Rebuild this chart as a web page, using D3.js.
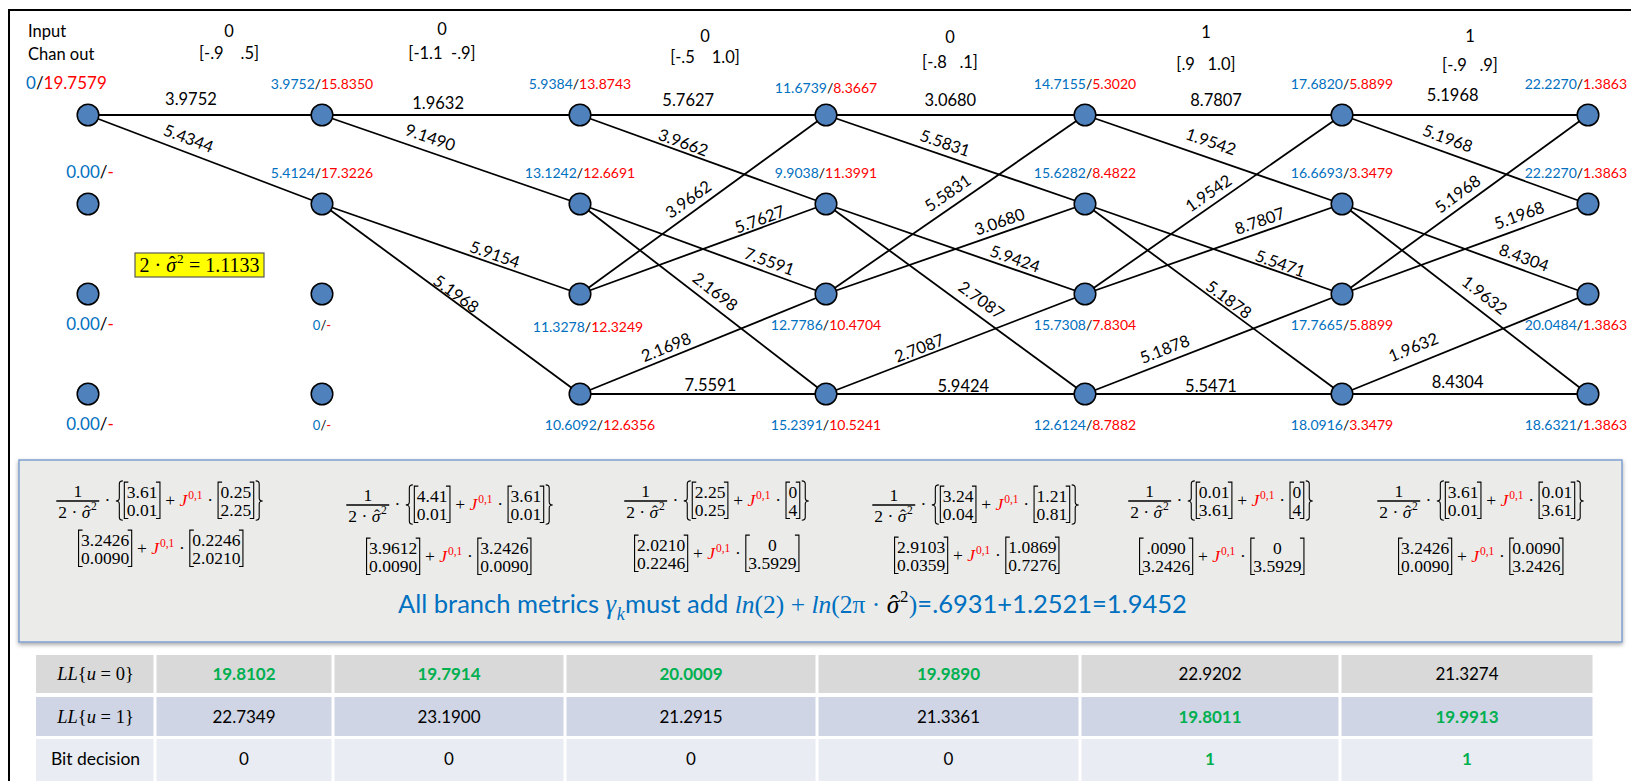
<!DOCTYPE html>
<html>
<head>
<meta charset="utf-8">
<script src="https://cdn.jsdelivr.net/npm/d3@7"></script>
<style>
  html, body { margin: 0; padding: 0; background: #fff; }
  svg text { white-space: pre; }
</style>
</head>
<body>
<svg id="chart" width="1631" height="781"></svg>
<script>
// ---------------- data ----------------
const inputBits = ["0", "0", "0", "0", "1", "1"];
const chanOut = ["[-.9    .5]", "[-1.1  -.9]", "[-.5    1.0]", "[-.8   .1]", "[.9   1.0]", "[-.9   .9]"];

// forward (alpha) / backward (beta) state metrics, one array per trellis column, states 0..3
const alphaCol = [
  ["0", "0.00", "0.00", "0.00"],
  ["3.9752", "5.4124", "0", "0"],
  ["5.9384", "13.1242", "11.3278", "10.6092"],
  ["11.6739", "9.9038", "12.7786", "15.2391"],
  ["14.7155", "15.6282", "15.7308", "12.6124"],
  ["17.6820", "16.6693", "17.7665", "18.0916"],
  ["22.2270", "22.2270", "20.0484", "18.6321"]
];
const betaCol = [
  ["19.7579", "-", "-", "-"],
  ["15.8350", "17.3226", "-", "-"],
  ["13.8743", "12.6691", "12.3249", "12.6356"],
  ["8.3667", "11.3991", "10.4704", "10.5241"],
  ["5.3020", "8.4822", "7.8304", "8.7882"],
  ["5.8899", "3.3479", "5.8899", "3.3479"],
  ["1.3863", "1.3863", "1.3863", "1.3863"]
];

// trellis branches (from state, to state) and branch metrics per stage
const branchPairs = [[0, 0], [0, 1], [1, 2], [1, 3], [2, 0], [2, 1], [3, 2], [3, 3]];
const gammaStage = [
  ["3.9752", "5.4344"],
  ["1.9632", "9.1490", "5.9154", "5.1968"],
  ["5.7627", "3.9662", "7.5591", "2.1698", "3.9662", "5.7627", "2.1698", "7.5591"],
  ["3.0680", "5.5831", "5.9424", "2.7087", "5.5831", "3.0680", "2.7087", "5.9424"],
  ["8.7807", "1.9542", "5.5471", "5.1878", "1.9542", "8.7807", "5.1878", "5.5471"],
  ["5.1968", "5.1968", "8.4304", "1.9632", "5.1968", "5.1968", "1.9632", "8.4304"]
];

const noiseVar = "1.1133";

// squared distances per stage: direct term and J-weighted term
const distDirect = [["3.61", "0.01"], ["4.41", "0.01"], ["2.25", "0.25"], ["3.24", "0.04"], ["0.01", "3.61"], ["3.61", "0.01"]];
const distJ = [["0.25", "2.25"], ["3.61", "0.01"], ["0", "4"], ["1.21", "0.81"], ["0", "4"], ["0.01", "3.61"]];
const scaledDirect = [["3.2426", "0.0090"], ["3.9612", "0.0090"], ["2.0210", "0.2246"], ["2.9103", "0.0359"], [".0090", "3.2426"], ["3.2426", "0.0090"]];
const scaledJ = [["0.2246", "2.0210"], ["3.2426", "0.0090"], ["0", "3.5929"], ["1.0869", "0.7276"], ["0", "3.5929"], ["0.0090", "3.2426"]];

const constTerms = "=.6931+1.2521=1.9452";

// log-likelihood table
const llZero = ["19.8102", "19.7914", "20.0009", "19.9890", "22.9202", "21.3274"];
const llOne = ["22.7349", "23.1900", "21.2915", "21.3361", "19.8011", "19.9913"];
const bitDecision = ["0", "0", "0", "0", "1", "1"];

// ---------------- layout ----------------
const colX = [88, 322, 580, 826, 1085, 1342, 1588];
const rowY = [115, 204, 294, 394];
const headX = [229, 442, 705, 950, 1206, 1470];
const bitY = [37, 35, 42, 43, 38, 42];
const chanY = [59, 59, 63, 68, 70, 71];
// branch label placement: fraction along branch, vertical lift above the line
const labelPlace = [
  [[.44, 16], [.43, 15]],
  [[.45, 12], [.42, 15], [.67, 10], [.52, 9]],
  [[.44, 15], [.42, 10], [.77, 12], [.55, 17], [.44, 16], [.73, 9], [.35, 12], [.53, 9]],
  [[.48, 15], [.46, 13], [.73, 11], [.60, 18], [.47, 17], [.67, 12], [.36, 10], [.53, 8]],
  [[.51, 15], [.49, 17], [.76, 9], [.56, 11], [.48, 15], [.68, 12], [.31, 14], [.49, 8]],
  [[.45, 20], [.43, 15], [.74, 13], [.58, 19], [.47, 16], [.72, 14], [.29, 18], [.47, 12]]
];
// per-node label nudges [dx, dy] for a few states
const labelNudge = { "3-0": [0, 4], "2-3": [20, 0], "2-2": [8, 2] };
const topFormulaPos = [[160, 501], [450, 505], [717, 501], [976, 505], [1221, 501], [1481, 501]];
const botFormulaPos = [[161, 549], [449, 557], [717, 554], [977, 556], [1222, 557], [1481, 557]];
const tableEdges = [36, 155, 333, 565, 817, 1080, 1340, 1594];
const tableRows = [[655, 693], [697, 736], [739, 782]];

const SANS = "Lato, 'Open Sans', sans-serif";
const SERIF = "'Liberation Serif', 'DejaVu Serif', serif";
const BLUE = "#0070c0", RED = "#ff0000", GREEN = "#00b050";

const x = d3.scaleOrdinal().domain(d3.range(colX.length)).range(colX);
const y = d3.scaleOrdinal().domain(d3.range(rowY.length)).range(rowY);

const svg = d3.select("#chart");
const defs = svg.append("defs");
const shadow = defs.append("filter").attr("id", "panelShadow").attr("x", "-2%").attr("y", "-5%").attr("width", "104%").attr("height", "115%");
shadow.append("feDropShadow").attr("dx", 0).attr("dy", 2).attr("stdDeviation", 2).attr("flood-color", "#000").attr("flood-opacity", 0.35);

// ---------------- helpers ----------------
function addText(g, s, o = {}) {
  const t = g.append("text").text(s)
    .attr("x", o.x || 0).attr("y", o.y || 0)
    .attr("font-family", o.ff || SERIF)
    .attr("font-size", o.sz || 16)
    .attr("fill", o.c || "#000");
  if (o.it) t.attr("font-style", "italic");
  if (o.bold) t.attr("font-weight", "bold");
  if (o.anchor) t.attr("text-anchor", o.anchor);
  return t;
}
const tw = t => t.node().getComputedTextLength();

// lays out a row of math pieces with baseline at y=0, returns its width
function mathRow(g, items, s) {
  const axis = -0.3 * s;
  let cx = 0;
  items.forEach(it => {
    switch (it.k) {
      case "sp": cx += it.w; break;
      case "t": {
        const t = addText(g, it.s, { x: cx, y: it.dy || 0, sz: (it.sz || 1) * s, c: it.c, it: it.it, ff: it.ff });
        cx += tw(t) + (it.after || 0);
        break;
      }
      case "sup": {
        const t = addText(g, it.s, { x: cx + 0.8, y: -0.42 * s, sz: 0.66 * s, c: it.c, it: it.it });
        cx += tw(t) + 1.2;
        break;
      }
      case "sub": {
        const t = addText(g, it.s, { x: cx + 0.5, y: 0.28 * s, sz: 0.7 * s, c: it.c, it: it.it });
        cx += tw(t) + 1;
        break;
      }
      case "hat": {
        const t = addText(g, it.s, { x: cx, y: 0, sz: s, c: it.c, it: true });
        const w = tw(t);
        addText(g, "ˆ", { x: cx + w / 2 + 1, y: -0.02 * s, sz: s, c: it.c, anchor: "middle" });
        cx += w;
        break;
      }
      case "mat": {
        const top = axis - 1.08 * s, bot = axis + 1.0 * s;
        const r1 = addText(g, it.v[0], { y: axis - 0.18 * s, sz: s, anchor: "middle" });
        const r2 = addText(g, it.v[1], { y: axis + 0.86 * s, sz: s, anchor: "middle" });
        const w = Math.max(tw(r1), tw(r2));
        const x0 = cx + 0.5, xc = x0 + 2.5 + w / 2, x1 = x0 + 5 + w;
        r1.attr("x", xc); r2.attr("x", xc);
        g.append("path")
          .attr("d", `M${x0 + 4},${top}H${x0}V${bot}H${x0 + 4}M${x1 - 4},${top}H${x1}V${bot}H${x1 - 4}`)
          .attr("fill", "none").attr("stroke", "#000").attr("stroke-width", 1.1);
        cx = x1 + 1;
        break;
      }
      case "brace": {
        const top = axis - 1.15 * s, bot = axis + 1.1 * s, mid = axis, w = 7, q = 3;
        const xa = cx + 1, xm = xa + w / 2;
        let d;
        if (it.side === "L") {
          const xo = xa + w;
          d = `M${xo},${top}Q${xm},${top} ${xm},${top + q}L${xm},${mid - q}Q${xm},${mid} ${xa},${mid}Q${xm},${mid} ${xm},${mid + q}L${xm},${bot - q}Q${xm},${bot} ${xo},${bot}`;
        } else {
          const xe = xa + w;
          d = `M${xa},${top}Q${xm},${top} ${xm},${top + q}L${xm},${mid - q}Q${xm},${mid} ${xe},${mid}Q${xm},${mid} ${xm},${mid + q}L${xm},${bot - q}Q${xm},${bot} ${xa},${bot}`;
        }
        g.append("path").attr("d", d).attr("fill", "none").attr("stroke", "#000").attr("stroke-width", 1.1);
        cx += w + 2;
        break;
      }
      case "frac": {
        const dg = g.append("g");
        const dw = mathRow(dg, it.den, s);
        const w = dw + 4;
        dg.attr("transform", `translate(${cx + 2},${axis + 0.95 * s})`);
        addText(g, it.num, { x: cx + w / 2, y: axis - 0.25 * s, sz: s, anchor: "middle" });
        g.append("line").attr("x1", cx).attr("x2", cx + w).attr("y1", axis).attr("y2", axis)
          .attr("stroke", "#000").attr("stroke-width", 1.3);
        cx += w + 1;
        break;
      }
    }
  });
  return cx;
}

function placeCentered(items, s, cxPos, axisY) {
  const g = svg.append("g");
  const w = mathRow(g, items, s);
  g.attr("transform", `translate(${cxPos - w / 2},${axisY + 0.3 * s})`);
  return g;
}

// ---------------- frame ----------------
svg.append("path").attr("d", "M9,781V10H1631").attr("fill", "none").attr("stroke", "#000").attr("stroke-width", 2);

// ---------------- header ----------------
addText(svg, "Input", { x: 28, y: 37, ff: SANS, sz: 16.5 });
addText(svg, "Chan out", { x: 28, y: 60, ff: SANS, sz: 16.5 });
inputBits.forEach((b, i) => addText(svg, b, { x: headX[i], y: bitY[i], ff: SANS, sz: 16.5, anchor: "middle" }));
chanOut.forEach((c, i) => addText(svg, c, { x: headX[i], y: chanY[i], ff: SANS, sz: 16.5, anchor: "middle" }));

// ---------------- trellis branches ----------------
const branches = [];
gammaStage.forEach((gs, k) => gs.forEach((gm, i) => {
  const [f, t] = branchPairs[i];
  branches.push({ k, f, t, gm, place: labelPlace[k][i] });
}));

const gBr = svg.append("g");
gBr.selectAll("line").data(branches).join("line")
  .attr("x1", d => x(d.k)).attr("y1", d => y(d.f))
  .attr("x2", d => x(d.k + 1)).attr("y2", d => y(d.t))
  .attr("stroke", "#000").attr("stroke-width", 1.8);

gBr.selectAll("text").data(branches).join("text")
  .attr("transform", d => {
    const x0 = x(d.k), y0 = y(d.f), x1 = x(d.k + 1), y1 = y(d.t);
    const [frac, lift] = d.place;
    const px = x0 + frac * (x1 - x0), py = y0 + frac * (y1 - y0) - lift;
    const ang = Math.atan2(y1 - y0, x1 - x0) * 180 / Math.PI;
    return `translate(${px},${py}) rotate(${ang})`;
  })
  .attr("text-anchor", "middle").attr("dy", "0.36em")
  .attr("font-family", SANS).attr("font-size", 16.5).attr("fill", "#000")
  .text(d => d.gm);

// ---------------- nodes ----------------
const nodes = [];
alphaCol.forEach((col, c) => col.forEach((a, r) => nodes.push({ c, r, a, b: betaCol[c][r] })));

svg.append("g").selectAll("circle").data(nodes).join("circle")
  .attr("cx", d => x(d.c)).attr("cy", d => y(d.r)).attr("r", 10.8)
  .attr("fill", "#4f81bd").attr("stroke", "#000").attr("stroke-width", 1.5);

const gLab = svg.append("g");
nodes.forEach(d => {
  const big = d.c === 0;
  const small = d.c === 1 && d.r >= 2;
  const sz = big ? 17 : small ? 13 : 14;
  const [nx, ny] = labelNudge[d.c + "-" + d.r] || [0, 0];
  const t = gLab.append("text")
    .attr("font-family", SANS).attr("font-size", sz)
    .attr("text-anchor", "middle")
    .attr("x", x(d.c) + (big ? 2 : 0) + nx)
    .attr("y", y(d.r) + (d.r < 2 ? -26 : 36) + ny);
  t.append("tspan").attr("fill", BLUE).text(d.a);
  t.append("tspan").attr("fill", "#000").text("/");
  t.append("tspan").attr("fill", RED).text(d.b);
  const w = tw(t);
  if (d.c === 0 && d.r === 0) t.attr("text-anchor", "start").attr("x", 26);
  else if (x(d.c) + w / 2 > 1627) t.attr("x", 1627 - w / 2);
});

// ---------------- noise variance box ----------------
svg.append("rect").attr("x", 135).attr("y", 253).attr("width", 129).attr("height", 24)
  .attr("fill", "#ffff00").attr("stroke", "#595959").attr("stroke-width", 1.2);
placeCentered([
  { k: "t", s: "2 · " }, { k: "hat", s: "σ" }, { k: "sup", s: "2" }, { k: "t", s: " = " + noiseVar }
], 20, 199.5, 271.5 - 0.3 * 20);

// ---------------- formula panel ----------------
svg.append("rect").attr("x", 19).attr("y", 460).attr("width", 1603).attr("height", 182)
  .attr("fill", "#ebecea").attr("stroke", "#7f9fcf").attr("stroke-width", 1.5)
  .attr("filter", "url(#panelShadow)");

const MS = 17.5;
const denom = [{ k: "t", s: "2" }, { k: "t", s: " · " }, { k: "hat", s: "σ" }, { k: "sup", s: "2" }];
distDirect.forEach((m, i) => {
  placeCentered([
    { k: "frac", num: "1", den: denom },
    { k: "t", s: " · " },
    { k: "brace", side: "L" },
    { k: "mat", v: m },
    { k: "t", s: " + " },
    { k: "t", s: "J", it: true, c: RED },
    { k: "sup", s: "0,1", c: RED },
    { k: "t", s: " · " },
    { k: "mat", v: distJ[i] },
    { k: "brace", side: "R" }
  ], MS, topFormulaPos[i][0], topFormulaPos[i][1]);
  placeCentered([
    { k: "mat", v: scaledDirect[i] },
    { k: "t", s: " + " },
    { k: "t", s: "J", it: true, c: RED },
    { k: "sup", s: "0,1", c: RED },
    { k: "t", s: " · " },
    { k: "mat", v: scaledJ[i] }
  ], MS, botFormulaPos[i][0], botFormulaPos[i][1]);
});

// summary line
{
  const g = svg.append("g").attr("transform", "translate(398,613)");
  mathRow(g, [
    { k: "t", s: "All branch metrics ", ff: SANS, c: BLUE },
    { k: "t", s: "γ", it: true, c: BLUE, sz: 1.05 },
    { k: "sub", s: "k", it: true, c: BLUE },
    { k: "t", s: "must add ", ff: SANS, c: BLUE },
    { k: "t", s: "ln", it: true, c: BLUE },
    { k: "t", s: "(2) + ", c: BLUE },
    { k: "t", s: "ln", it: true, c: BLUE },
    { k: "t", s: "(2π · ", c: BLUE },
    { k: "hat", s: "σ", c: "#000" },
    { k: "sup", s: "2", c: "#000" },
    { k: "t", s: ")", c: BLUE },
    { k: "t", s: constTerms, ff: SANS, c: BLUE }
  ], 25.5);
}

// ---------------- log-likelihood table ----------------
const rowFill = ["#d9d9d9", "#cfd5e4", "#e9ecf2"];
const gT = svg.append("g");
tableRows.forEach(([y0, y1], r) => {
  for (let c = 0; c < tableEdges.length - 1; c++) {
    gT.append("rect")
      .attr("x", tableEdges[c] + (c ? 1.5 : 0)).attr("y", y0)
      .attr("width", tableEdges[c + 1] - tableEdges[c] - (c ? 1.5 : 0) - 1.5)
      .attr("height", y1 - y0)
      .attr("fill", rowFill[r]);
  }
});
const rowMid = tableRows.map(([a, b]) => (a + b) / 2);
// row headers
[0, 1].forEach(r => {
  const g = svg.append("g");
  const w = mathRow(g, [
    { k: "t", s: "LL", it: true }, { k: "t", s: "{" }, { k: "t", s: "u", it: true },
    { k: "t", s: " = " + r + "}" }
  ], 18.5);
  g.attr("transform", `translate(${(tableEdges[0] + tableEdges[1]) / 2 - w / 2},${rowMid[r] + 6})`);
});
addText(svg, "Bit decision", { x: (tableEdges[0] + tableEdges[1]) / 2, y: rowMid[2] + 4, ff: SANS, sz: 17.5, anchor: "middle" });

const cellCenter = i => (tableEdges[i + 1] + tableEdges[i + 2]) / 2;
llZero.forEach((v, i) => {
  const win = bitDecision[i] === "0";
  addText(svg, v, { x: cellCenter(i), y: rowMid[0] + 6, ff: SANS, sz: 17, anchor: "middle", c: win ? GREEN : "#000", bold: win });
});
llOne.forEach((v, i) => {
  const win = bitDecision[i] === "1";
  addText(svg, v, { x: cellCenter(i), y: rowMid[1] + 6, ff: SANS, sz: 17, anchor: "middle", c: win ? GREEN : "#000", bold: win });
});
bitDecision.forEach((v, i) => {
  const one = v === "1";
  addText(svg, v, { x: cellCenter(i), y: rowMid[2] + 4, ff: SANS, sz: 17, anchor: "middle", c: one ? GREEN : "#000", bold: one });
});
</script>
</body>
</html>
